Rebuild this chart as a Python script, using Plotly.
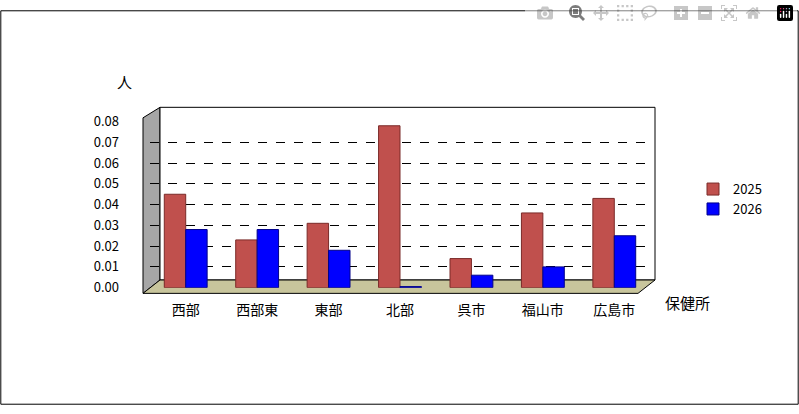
import plotly.graph_objects as go

categories = ["西部", "西部東", "東部", "北部", "呉市", "福山市", "広島市"]
v2025 = [0.045, 0.023, 0.031, 0.078, 0.014, 0.036, 0.043]
v2026 = [0.028, 0.028, 0.018, 0.0005, 0.006, 0.010, 0.025]

W, H = 799, 414
def px(x): return x / W
def py(y): return 1 - y / H

fig = go.Figure()
fig.add_bar(x=categories, y=v2025, name="2025", marker=dict(color="#C0504D", line=dict(color="#7a2a28", width=1)))
fig.add_bar(x=categories, y=v2026, name="2026", marker=dict(color="#0000FF", line=dict(color="#00008a", width=1)))

shapes = [
    dict(type="rect", xref="paper", yref="paper", x0=0.001, y0=0.002, x1=0.999, y1=0.998, line=dict(color="black", width=1)),
    dict(type="path", xref="paper", yref="paper", layer="below",
         path=f"M {px(143)},{py(297)} L {px(143)},{py(113)} L {px(160)},{py(102)} L {px(160)},{py(283)} Z",
         fillcolor="#A6A6A6", line=dict(color="black", width=1)),
    dict(type="rect", xref="paper", yref="paper", layer="below", x0=px(160), y0=py(283), x1=px(655), y1=py(102),
         fillcolor="white", line=dict(color="black", width=1)),
    dict(type="path", xref="paper", yref="paper", layer="below",
         path=f"M {px(143)},{py(297)} L {px(638)},{py(297)} L {px(655)},{py(283)} L {px(160)},{py(283)} Z",
         fillcolor="#C8C59C", line=dict(color="black", width=1)),
]

fig.update_layout(
    width=W, height=H, paper_bgcolor="white", plot_bgcolor="rgba(0,0,0,0)",
    margin=dict(l=0, r=0, t=0, b=0),
    font=dict(family="Noto Sans CJK JP, Noto Sans", size=14, color="black"),
    barmode="group", bargap=0.4, bargroupgap=0.0,
    xaxis=dict(domain=[px(150), px(650)], showgrid=False, showline=False, ticks="",
               tickfont=dict(size=14), ticklabelstandoff=12),
    yaxis=dict(domain=[py(291), py(117)], range=[0, 0.08], dtick=0.01, tickformat=".2f",
               showgrid=True, gridcolor="black", griddash="dash", gridwidth=1,
               zeroline=False, showline=False, ticks="", ticklabelstandoff=30, tickfont=dict(size=13)),
    legend=dict(x=px(693), y=py(172), xanchor="left", yanchor="top", tracegroupgap=28,
                bgcolor="rgba(0,0,0,0)", font=dict(size=13), itemwidth=30),
    shapes=shapes,
    annotations=[
        dict(text="人", xref="paper", yref="paper", x=px(115), y=py(62), showarrow=False, font=dict(size=15)),
        dict(text="保健所", xref="paper", yref="paper", x=px(712), y=py(320), showarrow=False, font=dict(size=15)),
    ],
)
fig.write_html("out.html")
with open("out.html", encoding="utf-8") as f:
    s = f.read()
s = s.replace("<body>", '<body style="margin:0;overflow:hidden">', 1)
with open("out.html", "w", encoding="utf-8") as f:
    f.write(s)
